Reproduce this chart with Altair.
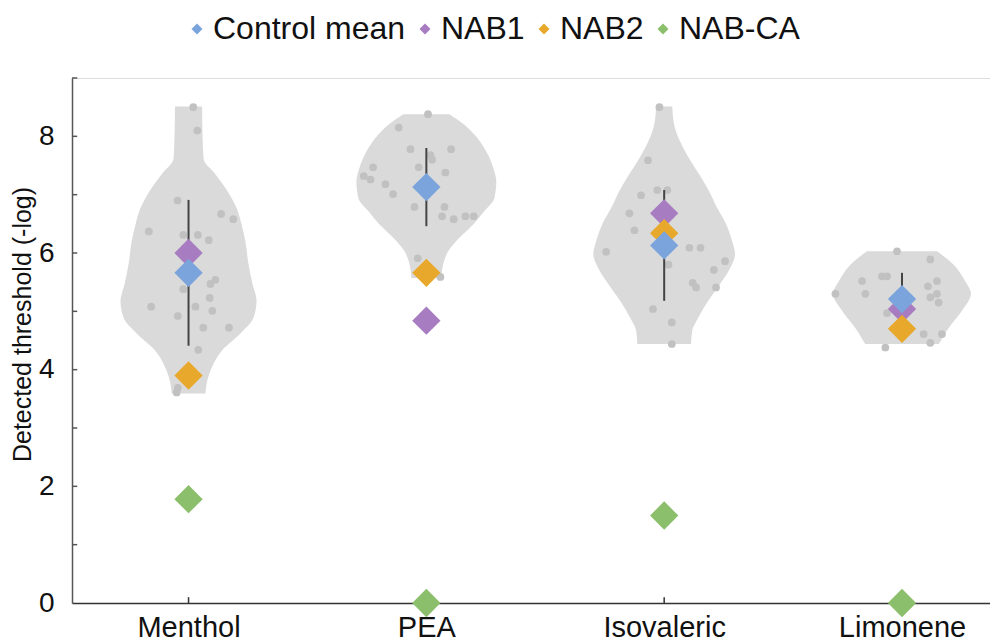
import altair as alt
import pandas as pd

FONT = "Liberation Sans"

categories = ["Menthol", "PEA", "Isovaleric", "Limonene"]
cat_pos = [1, 2, 3, 4]
groups = ["Control mean", "NAB1", "NAB2", "NAB-CA"]
group_colors = ["#7ba4dd", "#a77cc1", "#e7a82c", "#8cbf6b"]

control_mean = [5.66, 7.13, 6.13, 5.21]
control_err = [1.25, 0.67, 0.95, 0.45]
nab1 = [6.00, 4.84, 6.68, 5.04]
nab2 = [3.90, 5.66, 6.34, 4.70]
nab_ca = [1.78, 0.00, 1.50, 0.00]

# violin outlines: threshold level and half width (in category units)
menthol_vy = [3.59, 3.76, 4.03, 4.32, 4.62, 4.89, 5.18, 5.47, 5.81, 6.20, 6.49, 6.77, 7.06, 7.35, 7.62, 8.00, 8.51]
menthol_vw = [0.071, 0.076, 0.097, 0.139, 0.218, 0.273, 0.286, 0.269, 0.252, 0.239, 0.223, 0.202, 0.164, 0.113, 0.063, 0.059, 0.057]
pea_vy = [5.57, 5.81, 6.03, 6.26, 6.49, 6.72, 6.94, 7.23, 7.45, 7.74, 8.03, 8.20, 8.38]
pea_vw = [0.063, 0.071, 0.092, 0.139, 0.197, 0.244, 0.286, 0.294, 0.282, 0.252, 0.202, 0.160, 0.097]
iso_vy = [4.44, 4.67, 4.89, 5.18, 5.47, 5.74, 5.98, 6.20, 6.49, 6.77, 7.06, 7.35, 7.62, 7.91, 8.20, 8.51]
iso_vw = [0.113, 0.118, 0.143, 0.185, 0.235, 0.277, 0.298, 0.286, 0.261, 0.223, 0.189, 0.147, 0.105, 0.067, 0.042, 0.034]
lim_vy = [4.44, 4.72, 5.01, 5.30, 5.52, 5.81, 6.03]
lim_vw = [0.155, 0.197, 0.252, 0.290, 0.265, 0.214, 0.147]

# individual control subjects: value and horizontal jitter
menthol_pts = [8.50, 8.10, 6.90, 6.67, 6.58, 6.37, 6.31, 6.31, 6.22, 5.54, 5.47, 5.38, 5.23, 5.08, 5.08, 5.01, 4.92, 4.72, 4.72, 4.34, 3.69, 3.61]
menthol_jit = [0.02, 0.037, -0.046, 0.137, 0.188, -0.167, -0.022, 0.039, 0.085, 0.113, 0.092, -0.022, 0.089, -0.157, 0.029, 0.1, -0.045, 0.062, 0.17, 0.041, -0.045, -0.05]
pea_pts = [8.38, 8.15, 7.78, 7.78, 7.68, 7.60, 7.47, 7.47, 7.38, 7.32, 7.26, 7.18, 7.01, 6.79, 6.79, 6.63, 6.58, 6.63, 6.63, 5.91, 5.59]
pea_jit = [0.007, -0.116, -0.067, 0.104, 0.017, 0.024, -0.224, -0.032, 0.08, -0.263, -0.235, -0.172, -0.14, -0.05, 0.076, 0.066, 0.115, 0.164, 0.199, -0.036, 0.059]
iso_pts = [8.50, 7.59, 6.99, 7.08, 7.08, 6.68, 6.39, 6.02, 6.09, 6.09, 5.80, 5.86, 5.71, 5.49, 5.41, 5.41, 5.04, 4.81, 4.44]
iso_jit = [-0.02, -0.068, -0.097, -0.029, 0.013, -0.146, -0.125, -0.244, 0.106, 0.153, 0.018, 0.256, 0.209, 0.12, 0.134, 0.218, -0.047, 0.032, 0.032]
lim_pts = [6.03, 5.89, 5.60, 5.60, 5.52, 5.52, 5.43, 5.30, 5.30, 5.30, 5.24, 5.15, 4.97, 4.61, 4.61, 4.46, 4.38]
lim_jit = [-0.021, 0.119, -0.084, -0.063, -0.168, 0.147, 0.109, -0.28, -0.154, 0.147, 0.119, 0.154, -0.063, 0.091, 0.168, 0.119, -0.07]

y_ticks = [1, 2, 3, 4, 5, 6, 7, 8, 9]
y_labels = [0, 2, 4, 6, 8]
X_MIN, X_MAX = 0.51, 4.37
Y_MIN, Y_MAX = 0, 9
Y_TICK_LEN = 0.022
X_TICK_LEN = 0.1

# ---- tables
violin_rows = []
for pos, vy, vw in zip(cat_pos, [menthol_vy, pea_vy, iso_vy, lim_vy], [menthol_vw, pea_vw, iso_vw, lim_vw]):
    for y, w in zip(vy, vw):
        violin_rows.append({"pos": pos, "y": y, "w": w})
violin_df = pd.DataFrame(violin_rows)

pt_rows = []
for pos, pts, jit in zip(cat_pos, [menthol_pts, pea_pts, iso_pts, lim_pts], [menthol_jit, pea_jit, iso_jit, lim_jit]):
    for v, j in zip(pts, jit):
        pt_rows.append({"pos": pos, "v": v, "j": j})
pt_df = pd.DataFrame(pt_rows)

err_df = pd.DataFrame({"pos": cat_pos, "m": control_mean, "e": control_err})

dia_rows = []
for g, vals in [("NAB-CA", nab_ca), ("NAB1", nab1), ("NAB2", nab2), ("Control mean", control_mean)]:
    for pos, v in zip(cat_pos, vals):
        dia_rows.append({"pos": pos, "v": v, "group": g})
dia_df = pd.DataFrame(dia_rows)

ytick_df = pd.DataFrame({"y": y_ticks, "x0": X_MIN, "x1": X_MIN + Y_TICK_LEN})
xtick_df = pd.DataFrame({"x": cat_pos, "y0": Y_MIN, "y1": Y_MIN + X_TICK_LEN})

label_expr = " : ".join(
    [f"datum.value == {p} ? '{c}'" for p, c in zip(cat_pos, categories)]
) + " : ''"

xscale = alt.Scale(domain=[X_MIN, X_MAX], nice=False, zero=False)
yscale = alt.Scale(domain=[Y_MIN, Y_MAX], nice=False, zero=False)

x_axis = alt.Axis(values=cat_pos, labelExpr=label_expr, ticks=False, grid=False,
                  domainColor="#333333", domainWidth=1.5, labelFontSize=29,
                  labelColor="#111111", labelPadding=10, labelFont=FONT, title=None)
y_axis = alt.Axis(values=y_labels, format="d", ticks=False, grid=False, domainColor="#555555",
                  domainWidth=1.5, labelFontSize=28, labelColor="#111111",
                  labelPadding=18, labelFont=FONT, title="Detected threshold (-log)",
                  titleFontSize=25, titleFontWeight="normal", titleFont=FONT,
                  titleColor="#111111", titlePadding=3, titleY=246)

violin = alt.Chart(violin_df).transform_calculate(
    xl="datum.pos - datum.w", xr="datum.pos + datum.w"
).mark_area(orient="horizontal", color="#dadada", interpolate="monotone", opacity=1).encode(
    y=alt.Y("y:Q", scale=yscale, axis=y_axis),
    x=alt.X("xl:Q", scale=xscale, axis=x_axis, stack=None),
    x2="xr:Q",
    detail="pos:N",
)

points = alt.Chart(pt_df).transform_calculate(xp="datum.pos + datum.j").mark_circle(
    size=60, color="#c1c1c1", opacity=1
).encode(x=alt.X("xp:Q", scale=xscale), y=alt.Y("v:Q", scale=yscale))

errs = alt.Chart(err_df).transform_calculate(
    lo="datum.m - datum.e", hi="datum.m + datum.e"
).mark_rule(color="#444444", strokeWidth=2).encode(
    x=alt.X("pos:Q", scale=xscale), y=alt.Y("lo:Q", scale=yscale), y2="hi:Q"
)

diamonds = alt.Chart(dia_df).mark_point(shape="diamond", filled=True, size=800, opacity=1).encode(
    x=alt.X("pos:Q", scale=xscale),
    y=alt.Y("v:Q", scale=yscale),
    color=alt.Color("group:N", scale=alt.Scale(domain=groups, range=group_colors),
                    legend=alt.Legend(orient="none", direction="horizontal", legendX=109,
                                      legendY=-65, title=None, symbolType="diamond",
                                      symbolSize=120, symbolStrokeWidth=0, labelLimit=0,
                                      labelFontSize=32, labelFont=FONT, labelColor="#111111",
                                      labelOffset=0, columnPadding=3, padding=0)),
)

yticks = alt.Chart(ytick_df).mark_rule(color="#555555", strokeWidth=1.5).encode(
    y=alt.Y("y:Q", scale=yscale), x=alt.X("x0:Q", scale=xscale), x2="x1:Q"
)
xticks = alt.Chart(xtick_df).mark_rule(color="#333333", strokeWidth=1.5).encode(
    x=alt.X("x:Q", scale=xscale), y=alt.Y("y0:Q", scale=yscale), y2="y1:Q"
)

chart = alt.layer(violin, points, errs, yticks, xticks, diamonds).properties(
    width=918, height=525,
    autosize=alt.AutoSizeParams(type="none"),
    padding={"left": 64, "top": 70, "right": 0, "bottom": 40},
).configure_view(stroke=None).configure(font=FONT)

chart.save("out.html", embed_options={"renderer": "svg", "actions": False})
